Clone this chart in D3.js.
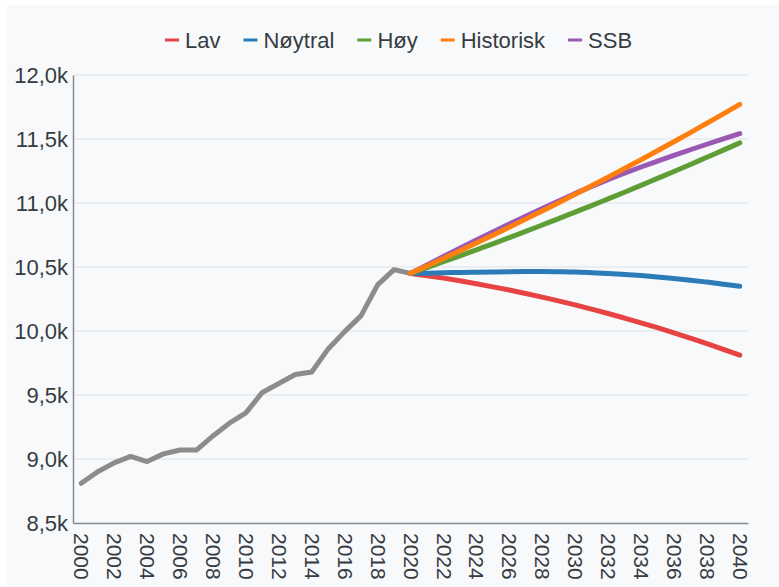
<!DOCTYPE html>
<html>
<head>
<meta charset="utf-8">
<script src="https://cdn.jsdelivr.net/npm/d3@7"></script>
<style>
  html, body { margin: 0; padding: 0; background: #ffffff; }
  svg { display: block; font-family: "Liberation Sans", Arial, Helvetica, sans-serif; }
</style>
</head>
<body>
<svg id="chart" width="779" height="587"></svg>
<script>
// ---- data ----
const histYears = d3.range(2000, 2021);
const histValues = [8810, 8900, 8970, 9020, 8980, 9040, 9070, 9070, 9180, 9280, 9360,
                    9520, 9590, 9660, 9680, 9860, 9995, 10120, 10360, 10480, 10450];

const projYears = d3.range(2020, 2041);
const lav       = [10450, 10432, 10413, 10392, 10369, 10345, 10320, 10293, 10265, 10235, 10204,
                   10171, 10137, 10101, 10064, 10026, 9986, 9944, 9901, 9857, 9811];
const noytral   = [10450, 10452, 10455, 10457, 10459, 10461, 10463, 10464, 10464, 10463, 10461,
                   10456, 10450, 10442, 10433, 10422, 10410, 10397, 10382, 10366, 10350];
const hoy       = [10450, 10495, 10541, 10587, 10634, 10681, 10730, 10778, 10828, 10878, 10929,
                   10980, 11032, 11084, 11138, 11192, 11246, 11301, 11357, 11413, 11470];
const historisk = [10450, 10508, 10567, 10627, 10687, 10748, 10811, 10874, 10938, 11002, 11068,
                   11134, 11201, 11270, 11338, 11408, 11479, 11550, 11623, 11696, 11770];
const ssb       = [10450, 10516, 10582, 10647, 10711, 10774, 10836, 10897, 10957, 11016, 11074,
                   11130, 11183, 11233, 11281, 11327, 11372, 11416, 11459, 11501, 11542];

const seriesNames  = ["Lav", "Nøytral", "Høy", "Historisk", "SSB"];
const seriesColors = ["#e84343", "#2b7bb9", "#5f9d36", "#ff7f0e", "#9b59b6"];
const seriesData   = [lav, noytral, hoy, historisk, ssb];
const drawOrder    = [0, 1, 2, 4, 3];

const allYears = d3.range(2000, 2041);
const xTickYears = d3.range(2000, 2041, 2);
const yTicks = [8500, 9000, 9500, 10000, 10500, 11000, 11500, 12000];

// ---- layout ----
const W = 779, H = 587;
const plot = { left: 73, right: 748, top: 75, bottom: 523 };
const textColor = "#363c43";

const svg = d3.select("#chart");
svg.append("rect").attr("x", 7).attr("y", 5).attr("width", W - 7).attr("height", H - 5)
   .attr("fill", "#f8f9fa");

const x = d3.scalePoint().domain(allYears).range([plot.left, plot.right]).padding(0.5);
const y = d3.scaleLinear().domain([8500, 12000]).range([plot.bottom, plot.top]);

// gridlines
svg.append("g").selectAll("line").data(yTicks.filter(t => t > 8500)).join("line")
  .attr("x1", plot.left).attr("x2", plot.right)
  .attr("y1", d => y(d)).attr("y2", d => y(d))
  .attr("stroke", "#dde2e8").attr("stroke-width", 1);

// y axis
const fmt = v => (v / 1000).toFixed(1).replace(".", ",") + "k";
const yAxis = svg.append("g").attr("transform", `translate(${plot.left},0)`)
  .call(d3.axisLeft(y).tickValues(yTicks).tickFormat(fmt).tickSize(0).tickPadding(5));
yAxis.select(".domain").attr("stroke", "#808b96").attr("stroke-width", 1.5);
yAxis.selectAll("text").attr("font-size", 22).attr("fill", textColor)
  .attr("font-family", "Liberation Sans, Arial, sans-serif");

// x axis
const xAxis = svg.append("g").attr("transform", `translate(0,${plot.bottom})`)
  .call(d3.axisBottom(x).tickValues(xTickYears).tickSize(0).tickPadding(0));
xAxis.select(".domain").attr("stroke", "#808b96").attr("stroke-width", 1.5);
xAxis.selectAll("text")
  .attr("font-size", 21).attr("fill", textColor)
  .attr("font-family", "Liberation Sans, Arial, sans-serif")
  .attr("text-anchor", "start")
  .attr("transform", "rotate(90)")
  .attr("x", 10).attr("y", 0).attr("dy", "0.35em");

// lines
const line = d3.line().x(d => x(d[0])).y(d => y(d[1])).curve(d3.curveMonotoneX);

svg.append("path")
  .datum(histYears.map((yr, i) => [yr, histValues[i]]))
  .attr("d", d3.line().x(d => x(d[0])).y(d => y(d[1])))
  .attr("fill", "none").attr("stroke", "#8c8c8c").attr("stroke-width", 5)
  .attr("stroke-linejoin", "round").attr("stroke-linecap", "round");

drawOrder.forEach(i => {
  svg.append("path")
    .datum(projYears.map((yr, j) => [yr, seriesData[i][j]]))
    .attr("d", line)
    .attr("fill", "none").attr("stroke", seriesColors[i]).attr("stroke-width", 5)
    .attr("stroke-linejoin", "round").attr("stroke-linecap", "round");
});

// legend
const legend = svg.append("g");
let lx = 165;
const ly = 40;
seriesNames.forEach((name, i) => {
  legend.append("line").attr("x1", lx).attr("x2", lx + 14).attr("y1", ly).attr("y2", ly)
    .attr("stroke", seriesColors[i]).attr("stroke-width", 3);
  const t = legend.append("text").attr("x", lx + 20).attr("y", ly).attr("dy", "0.35em")
    .attr("font-size", 22).attr("fill", textColor).text(name);
  lx += 20 + t.node().getComputedTextLength() + 23;
});
</script>
</body>
</html>
